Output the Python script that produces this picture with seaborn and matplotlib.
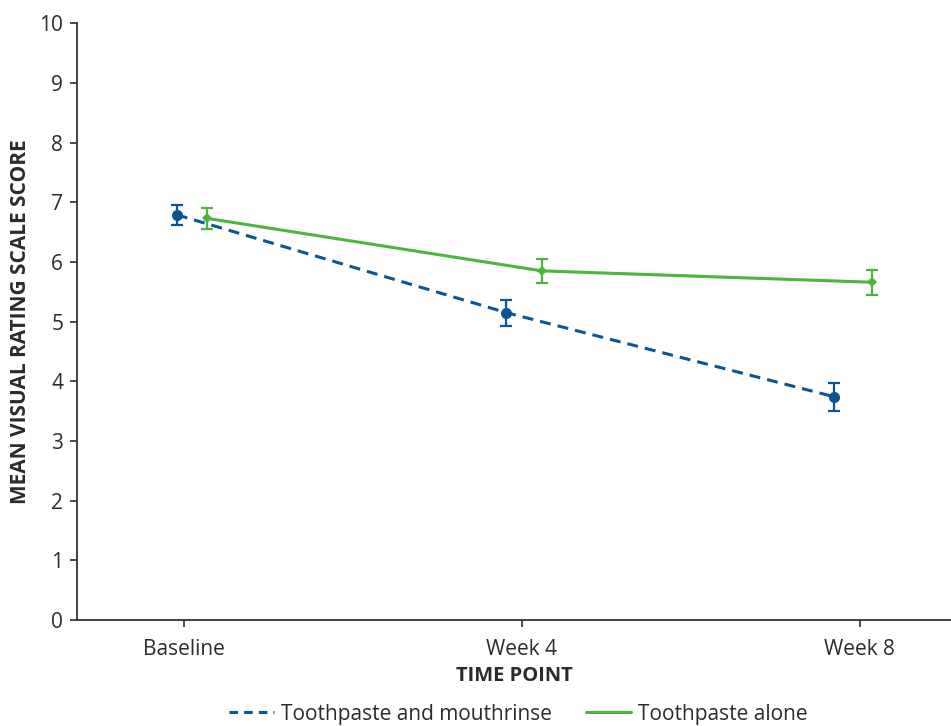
import matplotlib
matplotlib.use("Agg")
import matplotlib.pyplot as plt
import seaborn as sns
import pandas as pd
import numpy as np
from matplotlib.lines import Line2D

timepoints = ["Baseline", "Week 4", "Week 8"]
series_names = ["Toothpaste and mouthrinse", "Toothpaste alone"]
rinse_mean = [6.79, 5.15, 3.74]
rinse_err = [0.17, 0.22, 0.23]
alone_mean = [6.73, 5.85, 5.66]
alone_err = [0.17, 0.20, 0.21]

sns.set_theme(style="ticks")
plt.rcParams['font.family'] = ['Open Sans', 'DejaVu Sans']
text_col = "#2b2b2b"

blue = "#0a5592"
green = "#4cb43f"
offsets = {series_names[0]: [-0.02, -0.045, -0.075], series_names[1]: [0.07, 0.06, 0.035]}

rows = []
for name, means, errs in [(series_names[0], rinse_mean, rinse_err), (series_names[1], alone_mean, alone_err)]:
    for i, (t, m, e) in enumerate(zip(timepoints, means, errs)):
        rows.append({"series": name, "tp": t, "x": i + offsets[name][i], "mean": m, "err": e})
df = pd.DataFrame(rows)

fig = plt.figure(figsize=(9.51, 7.26), dpi=100)
ax = fig.add_axes([0.081, 0.146, 0.919, 0.822])

palette = {series_names[0]: blue, series_names[1]: green}
sns.lineplot(data=df, x="x", y="mean", hue="series", style="series",
             palette=palette, dashes={series_names[0]: (3.6, 2.3), series_names[1]: ""},
             markers={series_names[0]: "o", series_names[1]: "D"},
             ax=ax, legend=False, linewidth=2.2, markeredgewidth=0)
for line in ax.get_lines():
    if line.get_marker() == "o":
        line.set_markersize(8)
    else:
        line.set_markersize(5)

for name in series_names:
    sub = df[df.series == name]
    ax.errorbar(sub["x"], sub["mean"], yerr=sub["err"], fmt="none",
                ecolor=palette[name], elinewidth=1.6, capsize=4, capthick=1.6)

ax.set_xlim(-0.315, 2.27)
ax.set_ylim(0, 10)
ax.set_xticks(range(len(timepoints)))
ax.set_xticklabels(timepoints)
ax.set_yticks(range(0, 11))
ax.tick_params(axis="both", colors=text_col, labelsize=15, length=5, width=1.2, pad=5)
ax.tick_params(axis="x", pad=9)
for s in ["left", "bottom"]:
    ax.spines[s].set_color("#333333")
    ax.spines[s].set_linewidth(1.3)
sns.despine(ax=ax)

ax.set_xlabel("TIME POINT", fontsize=14.5, fontweight="bold", color=text_col, labelpad=4)
ax.set_ylabel("MEAN VISUAL RATING SCALE SCORE", fontsize=15, fontweight="bold", color=text_col, labelpad=6)

handles = [Line2D([0], [0], color=blue, lw=2.2, dashes=(2.8, 2.0)),
           Line2D([0], [0], color=green, lw=2.2)]
leg = fig.legend(handles, series_names, loc="center", bbox_to_anchor=(0.545, 0.0165),
                 ncol=2, frameon=False, fontsize=15, handlelength=2.2, handletextpad=0.33,
                 columnspacing=1.6, borderpad=0)
for t in leg.get_texts():
    t.set_color(text_col)

fig.savefig("out.png", dpi=100)
